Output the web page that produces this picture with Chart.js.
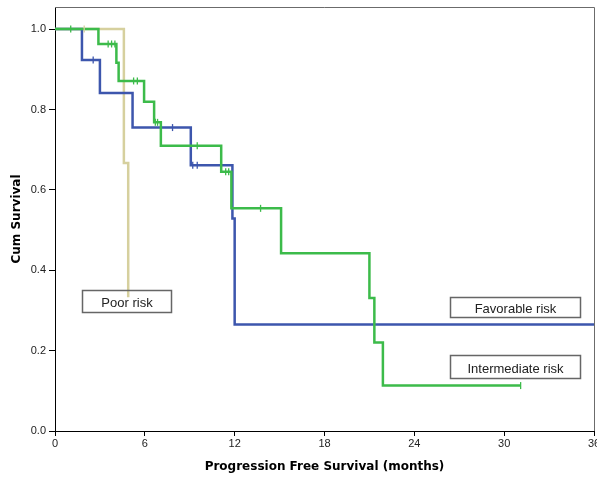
<!DOCTYPE html>
<html>
<head>
<meta charset="utf-8">
<script src="https://cdn.jsdelivr.net/npm/chart.js@4.4.0/dist/chart.umd.min.js"></script>
<style>
  html, body { margin: 0; padding: 0; background: #fff; overflow: hidden; }
  #wrap { width: 610px; height: 478px; }
</style>
</head>
<body>
<div id="wrap"><canvas id="kmChart" width="610" height="478"></canvas></div>
<script>
// ---- values ----
const xTicks = [0, 6, 12, 18, 24, 30, 36];
const yTicks = [0, 0.2, 0.4, 0.6, 0.8, 1.0];

// Favorable risk
const favTimes = [0, 1.8, 3.0, 5.18, 9.07, 11.85, 12.0, 36];
const favSurv = [1.0, 0.923, 0.841, 0.755, 0.661, 0.529, 0.265, 0.265];
const favCensorTimes = [2.55, 7.85, 9.2, 9.5];
const favCensorSurv = [0.923, 0.755, 0.661, 0.661];

// Intermediate risk
const intTimes = [0, 2.9, 4.1, 4.25, 5.95, 6.62, 7.07, 11.1, 11.78, 15.1, 21.0, 21.33, 21.9, 31.1];
const intSurv = [1.0, 0.963, 0.916, 0.871, 0.819, 0.768, 0.710, 0.645, 0.554, 0.442, 0.331, 0.220, 0.113, 0.113];
const intCensorTimes = [1.05, 3.55, 3.78, 4.0, 5.25, 5.5, 6.7, 6.85, 9.5, 11.4, 11.6, 13.73, 31.1];
const intCensorSurv = [1.0, 0.963, 0.963, 0.963, 0.871, 0.871, 0.768, 0.768, 0.710, 0.645, 0.645, 0.554, 0.113];

// Poor risk
const poorTimes = [0, 4.6, 4.89];
const poorSurv = [1.0, 0.667, 0.333];
const poorCensorTimes = [1.95];
const poorCensorSurv = [1.0];

// colours
const BLUE = '#3d56ad';
const GREEN = '#3cbb4a';
const TAN = '#d6d09e';

// label boxes, placed in axis units
const riskBoxes = [
  { text: 'Poor risk', x0: 1.78, x1: 7.73, y0: 0.351, y1: 0.297 },
  { text: 'Favorable risk', x0: 26.38, x1: 35.05, y0: 0.334, y1: 0.284 },
  { text: 'Intermediate risk', x0: 26.38, x1: 35.05, y0: 0.189, y1: 0.131 }
];

const toPoints = (xs, ys) => xs.map((t, i) => ({ x: t, y: ys[i] }));

function curve(xs, ys, color) {
  return {
    data: toPoints(xs, ys),
    borderColor: color,
    borderWidth: 2.5,
    stepped: true,
    tension: 0,
    pointRadius: 0,
    fill: false
  };
}

function censors(xs, ys, color) {
  return {
    data: toPoints(xs, ys),
    showLine: false,
    pointStyle: 'line',
    rotation: 90,
    pointRadius: 3.5,
    pointBorderWidth: 1.3,
    pointBorderColor: color,
    pointBackgroundColor: color,
    borderColor: color
  };
}

const baseFont = '"Liberation Sans", Arial, sans-serif';
const titleFont = { size: 12, weight: 'bold', family: '"DejaVu Sans", Verdana, sans-serif' };

// frame and label boxes
const extras = {
  id: 'extras',
  afterDatasetsDraw(chart) {
    const { ctx, chartArea, scales: { x, y } } = chart;
    ctx.save();
    ctx.strokeStyle = '#6b6b6b';
    ctx.lineWidth = 1;
    ctx.beginPath();
    ctx.moveTo(chartArea.left, Math.round(chartArea.top) + 0.5);
    ctx.lineTo(Math.round(chartArea.right) + 0.5, Math.round(chartArea.top) + 0.5);
    ctx.lineTo(Math.round(chartArea.right) + 0.5, chartArea.bottom);
    ctx.stroke();

    ctx.font = '13px ' + baseFont;
    ctx.textAlign = 'center';
    ctx.textBaseline = 'middle';
    riskBoxes.forEach(b => {
      const l = Math.round(x.getPixelForValue(b.x0)) + 0.5;
      const r = Math.round(x.getPixelForValue(b.x1)) + 0.5;
      const t = Math.round(y.getPixelForValue(b.y0)) + 0.5;
      const btm = Math.round(y.getPixelForValue(b.y1)) + 0.5;
      ctx.strokeStyle = '#666';
      ctx.lineWidth = 1.5;
      ctx.strokeRect(l, t, r - l, btm - t);
      ctx.fillStyle = '#222';
      ctx.fillText(b.text, (l + r) / 2, (t + btm) / 2 + 2);
    });
    ctx.restore();
  }
};

new Chart(document.getElementById('kmChart'), {
  type: 'line',
  data: {
    datasets: [
      censors(intCensorTimes, intCensorSurv, GREEN),
      censors(favCensorTimes, favCensorSurv, BLUE),
      censors(poorCensorTimes, poorCensorSurv, TAN),
      curve(intTimes, intSurv, GREEN),
      curve(favTimes, favSurv, BLUE),
      curve(poorTimes, poorSurv, TAN)
    ]
  },
  options: {
    responsive: false,
    animation: false,
    devicePixelRatio: 1,
    layout: { padding: { top: 7, right: 16, left: 0, bottom: 0 } },
    plugins: { legend: { display: false }, tooltip: { enabled: false } },
    scales: {
      x: {
        type: 'linear',
        min: 0,
        max: 36,
        afterBuildTicks: s => { s.ticks = xTicks.map(v => ({ value: v })); },
        afterFit: s => { s.height = 47; },
        ticks: {
          autoSkip: false,
          maxRotation: 0,
          padding: 1,
          color: '#222',
          font: { size: 11, family: baseFont },
          callback: v => String(v)
        },
        grid: { drawOnChartArea: false, tickLength: 5, color: '#000' },
        border: { color: '#000', width: 1 },
        title: {
          display: true,
          text: 'Progression Free Survival (months)',
          color: '#000',
          font: titleFont,
          padding: { top: 0, bottom: 4 }
        }
      },
      y: {
        min: 0,
        max: 1.055,
        afterBuildTicks: s => { s.ticks = yTicks.map(v => ({ value: v })); },
        afterFit: s => { s.width = 55; s.paddingTop = 0; s.paddingBottom = 0; },
        ticks: {
          padding: 3,
          color: '#222',
          font: { size: 11, family: baseFont },
          callback: v => Number(v).toFixed(1)
        },
        grid: { drawOnChartArea: false, tickLength: 6, color: '#000' },
        border: { color: '#000', width: 1 },
        title: {
          display: true,
          text: 'Cum Survival',
          color: '#000',
          font: titleFont,
          padding: { top: 10, bottom: 0 }
        }
      }
    }
  },
  plugins: [extras]
});
</script>
</body>
</html>
